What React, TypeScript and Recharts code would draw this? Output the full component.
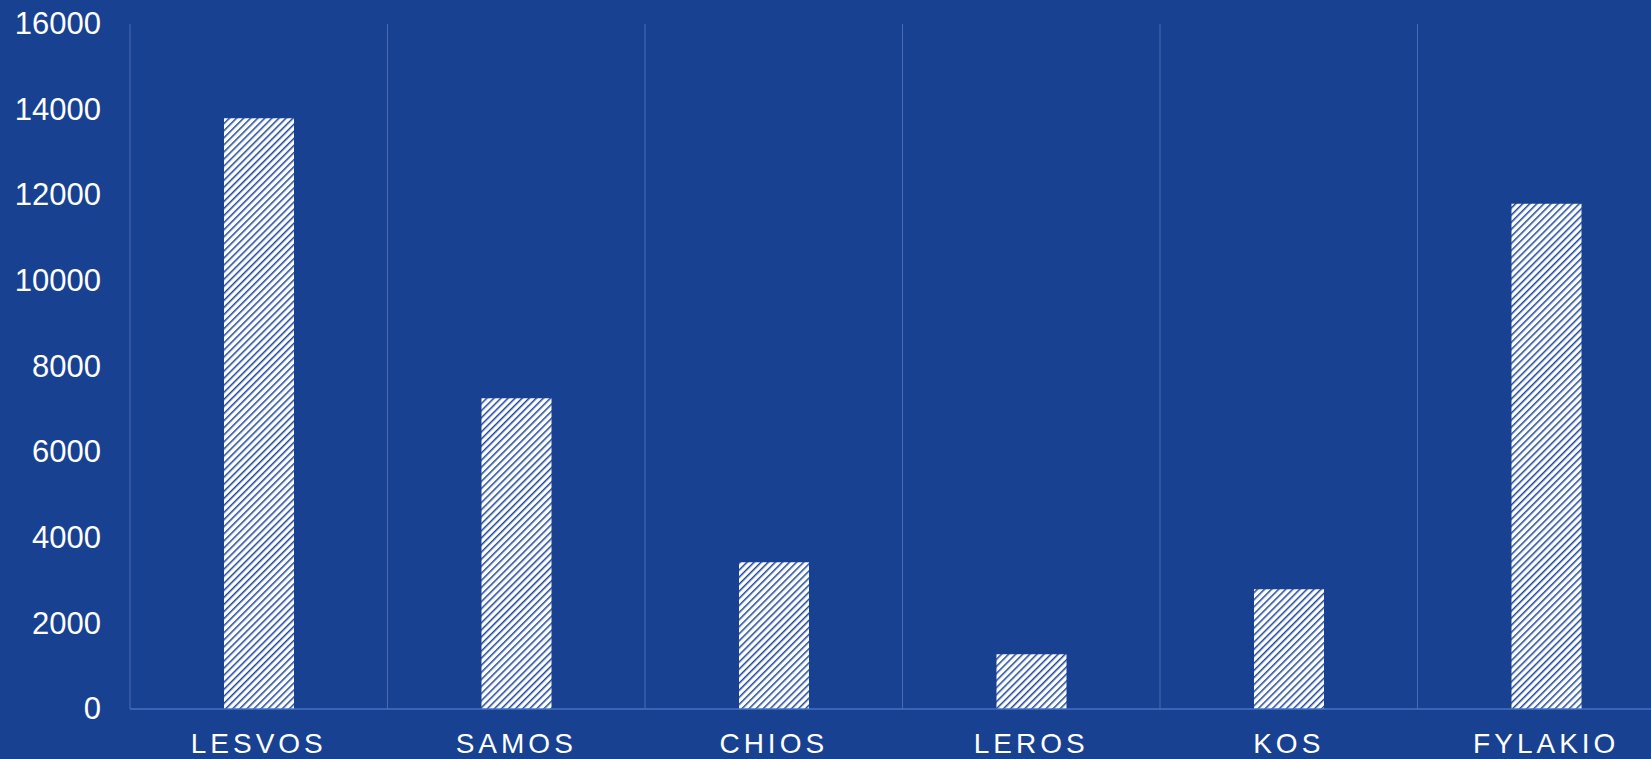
import { BarChart, Bar, XAxis, YAxis, CartesianGrid } from 'recharts';

const camps = ['LESVOS', 'SAMOS', 'CHIOS', 'LEROS', 'KOS', 'FYLAKIO'];
const residents = [13800, 7260, 3430, 1280, 2800, 11800];
const yTicks = [0, 2000, 4000, 6000, 8000, 10000, 12000, 14000, 16000];

const data = camps.map((name, i) => ({ name, residents: residents[i] }));

const FONT = '"Liberation Sans", Arial, sans-serif';
const BG = '#184192';

const XTick = (props: any) => {
  const { x, y, payload } = props;
  return (
    <text
      x={x}
      y={y}
      dy="0.71em"
      textAnchor="middle"
      fill="#ffffff"
      fontSize={28}
      fontFamily={FONT}
      style={{ letterSpacing: '4px' }}
    >
      {payload.value}
    </text>
  );
};

const YTick = (props: any) => {
  const { x, y, payload } = props;
  return (
    <text x={x} y={y} dy="0.33em" textAnchor="end" fill="#ffffff" fontSize={31} fontFamily={FONT}>
      {payload.value}
    </text>
  );
};

export default function App() {
  return (
    <div
      style={{
        position: 'absolute',
        left: 0,
        top: 0,
        width: 1651,
        height: 759,
        overflow: 'hidden',
        background: BG,
      }}
    >
      <BarChart
        width={1680}
        height={759}
        data={data}
        margin={{ top: 24, right: 5, bottom: 0, left: 0 }}
      >
        <defs>
          <pattern
            id="hatch"
            width="5"
            height="5"
            patternUnits="userSpaceOnUse"
            patternTransform="rotate(45)"
          >
            <rect width="5" height="5" fill="#ffffff" />
            <rect x="0" y="0" width="1.5" height="5" fill="#1c46a0" />
          </pattern>
        </defs>
        <CartesianGrid
          horizontal={false}
          stroke="#4b6cb2"
          verticalCoordinatesGenerator={({ offset }: any) =>
            camps.map((_, i) => offset.left + (i * offset.width) / camps.length)
          }
        />
        <XAxis
          dataKey="name"
          height={50}
          tickLine={false}
          tickSize={0}
          tickMargin={24}
          axisLine={{ stroke: '#4472c4', strokeWidth: 1.5 }}
          tick={<XTick />}
          interval={0}
        />
        <YAxis
          width={130}
          domain={[0, 16000]}
          ticks={yTicks}
          interval={0}
          axisLine={false}
          tickLine={false}
          tickSize={0}
          tickMargin={29}
          tick={<YTick />}
        />
        <Bar dataKey="residents" fill="url(#hatch)" barSize={70} isAnimationActive={false} />
      </BarChart>
    </div>
  );
}
